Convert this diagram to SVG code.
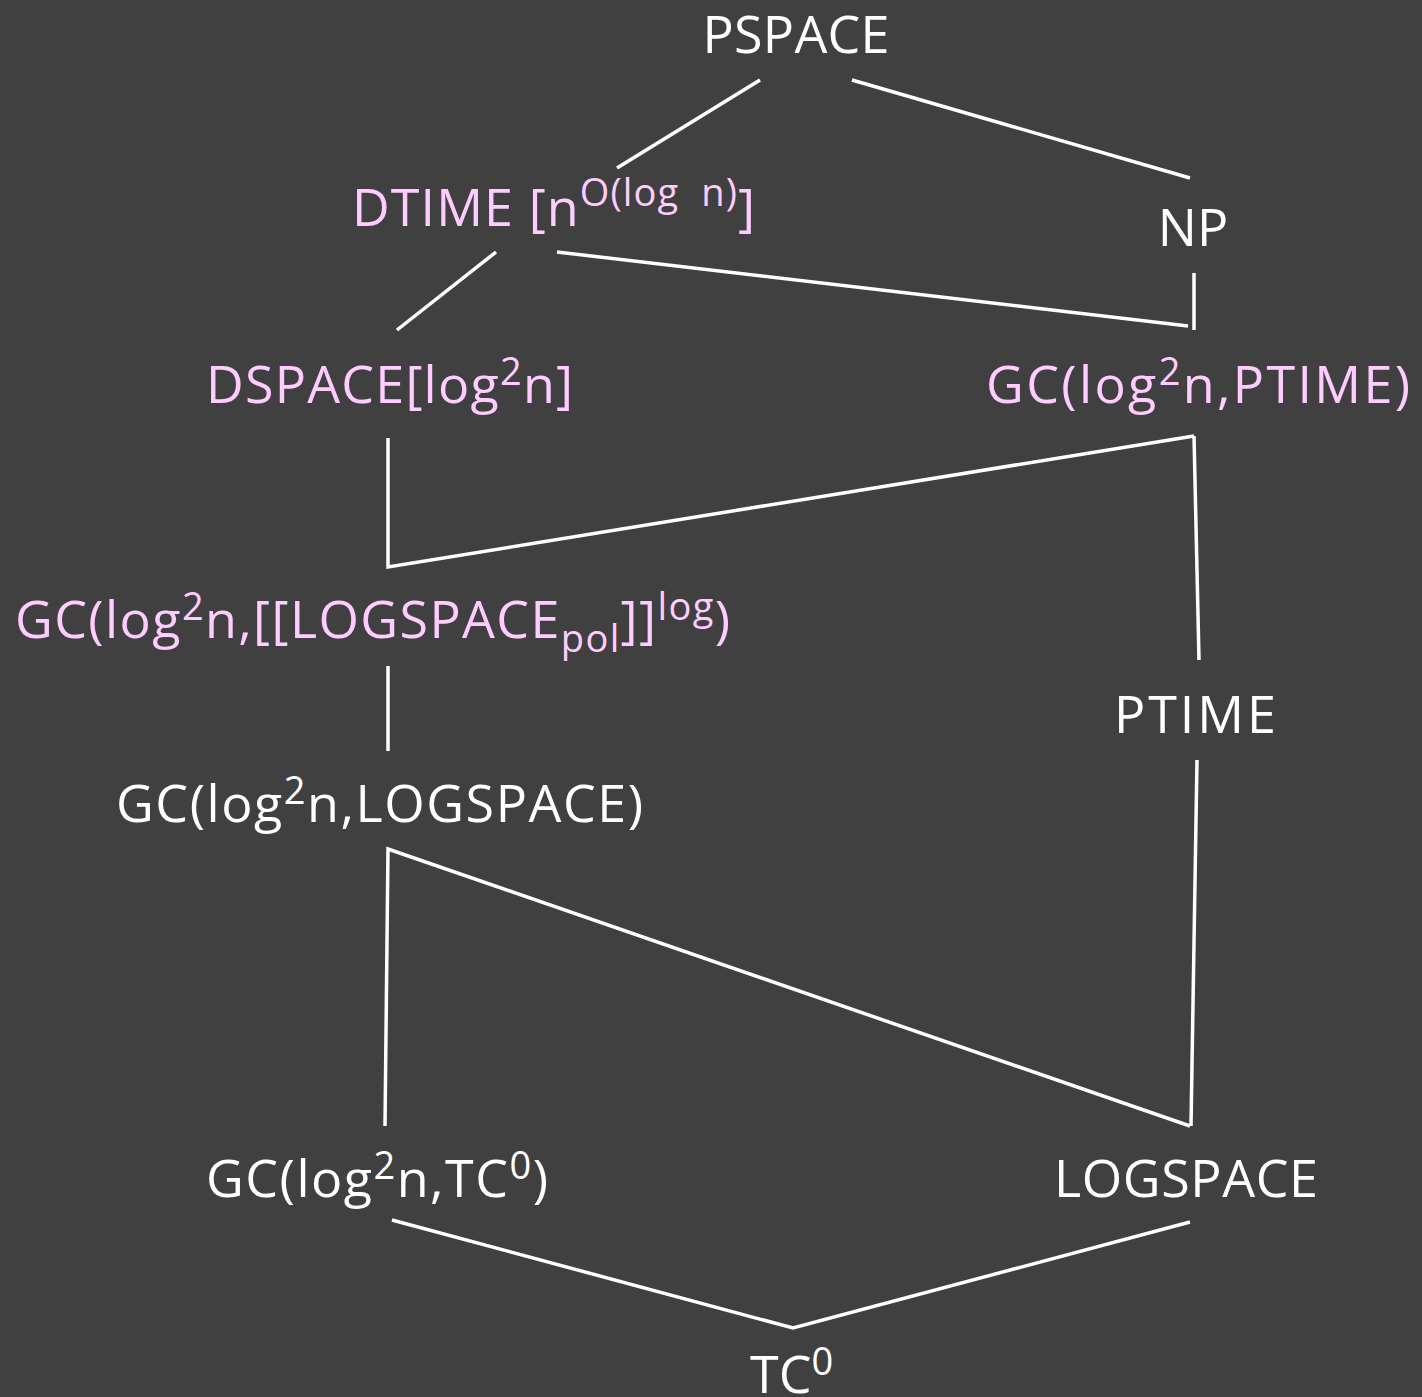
<svg xmlns="http://www.w3.org/2000/svg" width="1422" height="1397" viewBox="0 0 1422 1397">
<style>
text{font-family:"Open Sans","Noto Sans","Liberation Sans",sans-serif;font-size:52px;fill:#ffffff}
.p{fill:#ffccff}
.sup{font-size:38px}
line,polyline{stroke:#ffffff;stroke-width:3.5;fill:none;stroke-linecap:butt}
</style>
<rect width="1422" height="1397" fill="#404040"/>
<g id="connectors">
<line x1="760" y1="80" x2="617" y2="168"/>
<line x1="852" y1="80" x2="1190" y2="178"/>
<line x1="496" y1="252" x2="397" y2="330"/>
<line x1="557" y1="252" x2="1188" y2="326"/>
<line x1="1194" y1="273" x2="1194" y2="330"/>
<polyline points="388,438 388,567 1194,436"/>
<line x1="1194" y1="436" x2="1199" y2="660"/>
<line x1="388" y1="666" x2="388" y2="751"/>
<line x1="1197" y1="760" x2="1191" y2="1126"/>
<polyline points="385,1126 388,849 1190,1126"/>
<polyline points="392,1220 793,1328 1190,1222"/>
</g>
<g id="pspace"><text x="796" y="53" text-anchor="middle" textLength="187">PSPACE</text></g>
<g id="dtime"><text class="p" x="352" y="226" textLength="403" xml:space="preserve">DTIME [n<tspan class="sup" dy="-20">O(log  n)</tspan><tspan dy="20">]</tspan></text></g>
<g id="np"><text x="1193" y="246" text-anchor="middle">NP</text></g>
<g id="dspace"><text class="p" x="206" y="403" textLength="367">DSPACE[log<tspan class="sup" dy="-18">2</tspan><tspan dy="18">n]</tspan></text></g>
<g id="gc-ptime"><text class="p" x="986" y="403" textLength="424">GC(log<tspan class="sup" dy="-18">2</tspan><tspan dy="18">n,PTIME)</tspan></text></g>
<g id="gc-logspace-pol"><text class="p" x="15" y="638" textLength="715">GC(log<tspan class="sup" dy="-18">2</tspan><tspan dy="18">n,[[LOGSPACE</tspan><tspan class="sup" dy="14">pol</tspan><tspan dy="-14">]]</tspan><tspan class="sup" dy="-18">log</tspan><tspan dy="18">)</tspan></text></g>
<g id="ptime"><text x="1195" y="733" text-anchor="middle" textLength="162">PTIME</text></g>
<g id="gc-logspace"><text x="116" y="822" textLength="527">GC(log<tspan class="sup" dy="-18">2</tspan><tspan dy="18">n,LOGSPACE)</tspan></text></g>
<g id="gc-tc0"><text x="206" y="1197" textLength="342">GC(log<tspan class="sup" dy="-18">2</tspan><tspan dy="18">n,TC</tspan><tspan class="sup" dy="-18">0</tspan><tspan dy="18">)</tspan></text></g>
<g id="logspace"><text x="1186" y="1197" text-anchor="middle" textLength="264">LOGSPACE</text></g>
<g id="tc0"><text x="750" y="1393">TC<tspan class="sup" dy="-18">0</tspan></text></g>
</svg>
